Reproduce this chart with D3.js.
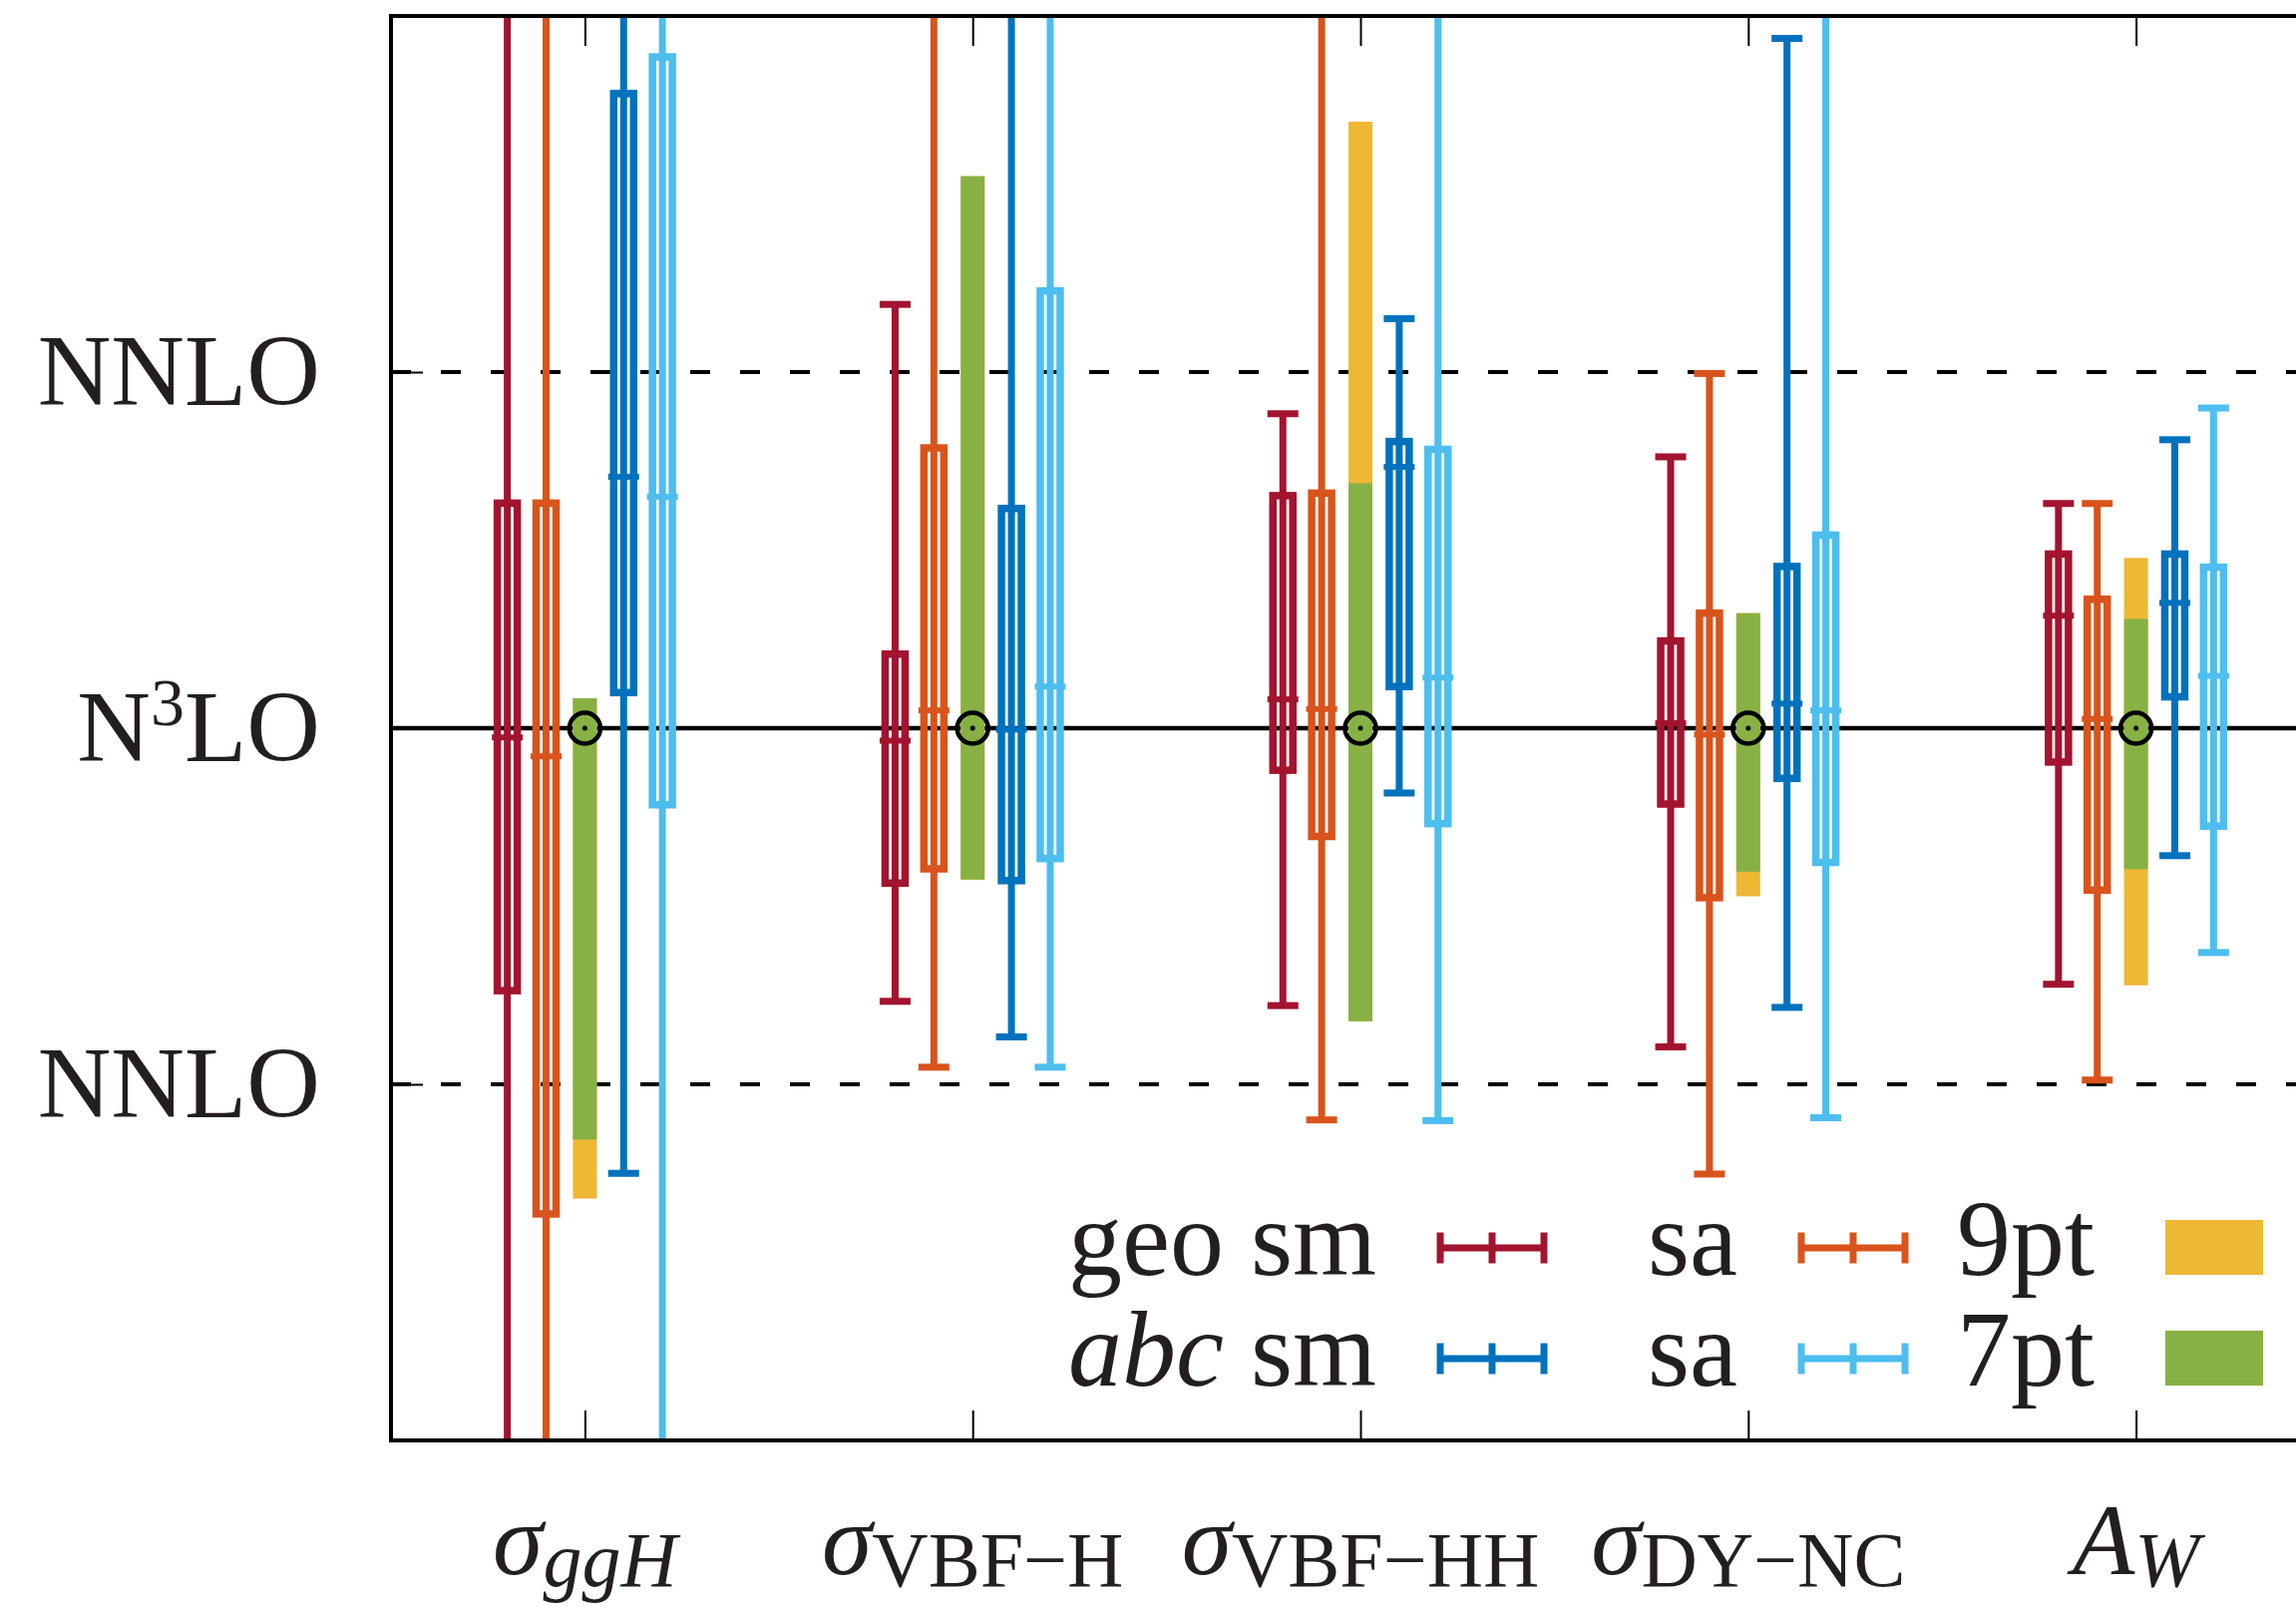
<!DOCTYPE html>
<html>
<head>
<meta charset="utf-8">
<script src="https://cdn.jsdelivr.net/npm/d3@7"></script>
<style>
  body { margin: 0; background: #fff; }
  text { font-family: "Liberation Serif", serif; fill: #231f20; }
</style>
</head>
<body>
<script>
// x categories: main symbol + subscript
var catPos = [1, 2, 3, 4, 5];
var catMain = ["σ", "σ", "σ", "σ", "A"];
var catSub = ["ggH", "VBF−H", "VBF−HH", "DY−NC", "W"];
var catSubItalic = [true, false, false, false, true];

// y ticks, N3LO at 0 and NNLO at +-1
var yTicks = [-1, 0, 1];
var yTickLabels = ["NNLO", "N^3LO", "NNLO"];

// per category: [whisker low, box low, central, box high, whisker high]
var geoSm = [[-2.6, -0.737, -0.026, 0.632, 2.6], [-0.767, -0.435, -0.035, 0.208, 1.19], [-0.779, -0.118, 0.081, 0.653, 0.883], [-0.895, -0.213, 0.014, 0.245, 0.762], [-0.719, -0.095, 0.316, 0.489, 0.631]];
var geoSa = [[-2.6, -1.364, -0.079, 0.632, 2.6], [-0.952, -0.395, 0.05, 0.787, 2.6], [-1.1, -0.304, 0.054, 0.66, 2.6], [-1.252, -0.476, -0.018, 0.323, 0.996], [-0.988, -0.455, 0.026, 0.362, 0.631]];
var abcSm = [[-1.25, 0.1, 0.706, 1.782, 2.6], [-0.867, -0.428, -0.004, 0.617, 2.6], [-0.182, 0.117, 0.734, 0.805, 1.15], [-0.784, -0.141, 0.069, 0.454, 1.937], [-0.358, 0.088, 0.352, 0.489, 0.81]];
var abcSa = [[-2.6, -0.215, 0.65, 1.885, 2.6], [-0.952, -0.366, 0.117, 1.228, 2.6], [-1.102, -0.268, 0.142, 0.783, 2.6], [-1.094, -0.377, 0.05, 0.542, 2.6], [-0.63, -0.275, 0.147, 0.452, 0.899]];

// scale variation bands: [low, high]
var band9pt = [[-1.321, 0.084], [-0.425, 1.55], [-0.823, 1.703], [-0.472, 0.323], [-0.722, 0.478]];
var band7pt = [[-1.155, 0.084], [-0.425, 1.55], [-0.823, 0.688], [-0.403, 0.323], [-0.396, 0.307]];

var barSeries = [
  {pre: "geo", label: "sm", data: geoSm, color: "#a2142f", offset: -0.2, row: 0, col: 0},
  {pre: "", label: "sa", data: geoSa, color: "#d9541c", offset: -0.1, row: 0, col: 1},
  {pre: "abc", label: "sm", data: abcSm, color: "#0072bd", offset: 0.1, row: 1, col: 0},
  {pre: "", label: "sa", data: abcSa, color: "#4dbeee", offset: 0.2, row: 1, col: 1}
];
var bandSeries = [
  {label: "9pt", data: band9pt, color: "#eeb734", row: 0},
  {label: "7pt", data: band7pt, color: "#88b144", row: 1}
];

var width = 2302, height = 1611;
var x = d3.scaleLinear().domain([0.5, 5.5]).range([392, 2336]);
var y = d3.scaleLinear().domain([-2, 2]).range([1444, 16]);

var svg = d3.select("body").append("svg")
  .attr("width", width)
  .attr("height", height)
  .style("background", "#fff");

svg.append("clipPath").attr("id", "plotclip")
  .append("rect")
  .attr("x", x(0.5)).attr("y", y(2))
  .attr("width", x(5.5) - x(0.5)).attr("height", y(-2) - y(2));

// reference lines
svg.selectAll("line.ref")
  .data(yTicks)
  .enter().append("line")
  .attr("class", "ref")
  .attr("x1", x(0.5)).attr("x2", x(5.5))
  .attr("y1", function(d) { return y(d) }).attr("y2", function(d) { return y(d) })
  .attr("stroke", "#000")
  .attr("stroke-width", function(d) { return d === 0 ? 4.5 : 4 })
  .attr("stroke-dasharray", function(d) { return d === 0 ? null : "20,30" });

// axes (ticks only, labels are drawn by hand below)
function styleAxis(g) {
  g.select(".domain").remove();
  g.selectAll(".tick line").attr("stroke", "#000").attr("stroke-width", 2);
}
svg.append("g")
  .attr("transform", "translate(0," + y(-2) + ")")
  .call(d3.axisBottom(x).tickValues(catPos).tickSize(-30).tickFormat(""))
  .call(styleAxis);
svg.append("g")
  .attr("transform", "translate(0," + y(2) + ")")
  .call(d3.axisTop(x).tickValues(catPos).tickSize(-30).tickFormat(""))
  .call(styleAxis);
svg.append("g")
  .attr("transform", "translate(" + x(0.5) + ",0)")
  .call(d3.axisLeft(y).tickValues(yTicks).tickSize(-32).tickFormat(""))
  .call(styleAxis);

var plot = svg.append("g").attr("clip-path", "url(#plotclip)");

// bands
bandSeries.forEach(function(s) {
  plot.selectAll(null)
    .data(s.data)
    .enter().append("rect")
    .attr("x", function(d, i) { return x(catPos[i]) - 12 })
    .attr("width", 24)
    .attr("y", function(d) { return y(d[1]) })
    .attr("height", function(d) { return y(d[0]) - y(d[1]) })
    .attr("fill", s.color);
});

// error bars with boxes
barSeries.forEach(function(s) {
  var g = plot.selectAll(null)
    .data(s.data)
    .enter().append("g")
    .attr("transform", function(d, i) { return "translate(" + x(catPos[i] + s.offset) + ",0)" })
    .attr("stroke", s.color)
    .attr("fill", "none");

  g.append("line")
    .attr("y1", function(d) { return y(d[0]) })
    .attr("y2", function(d) { return y(d[4]) })
    .attr("stroke-width", 7);
  g.append("line")
    .attr("x1", -15.5).attr("x2", 15.5)
    .attr("y1", function(d) { return y(d[0]) }).attr("y2", function(d) { return y(d[0]) })
    .attr("stroke-width", 7);
  g.append("line")
    .attr("x1", -15.5).attr("x2", 15.5)
    .attr("y1", function(d) { return y(d[4]) }).attr("y2", function(d) { return y(d[4]) })
    .attr("stroke-width", 7);
  g.append("rect")
    .attr("x", -10).attr("width", 20)
    .attr("y", function(d) { return y(d[3]) })
    .attr("height", function(d) { return y(d[1]) - y(d[3]) })
    .attr("stroke-width", 7.5);
  g.append("line")
    .attr("x1", -15.5).attr("x2", 15.5)
    .attr("y1", function(d) { return y(d[2]) }).attr("y2", function(d) { return y(d[2]) })
    .attr("stroke-width", 6);
});

// central value marker
var marks = plot.selectAll("g.mark")
  .data(catPos)
  .enter().append("g")
  .attr("class", "mark")
  .attr("transform", function(d) { return "translate(" + x(d) + "," + y(0) + ")" });
marks.append("circle").attr("r", 15.5).attr("fill", "none").attr("stroke", "#000").attr("stroke-width", 4.5);
marks.append("circle").attr("r", 2.5).attr("fill", "#000");

// frame
svg.append("rect")
  .attr("x", x(0.5)).attr("y", y(2))
  .attr("width", x(5.5) - x(0.5)).attr("height", y(-2) - y(2))
  .attr("fill", "none").attr("stroke", "#000").attr("stroke-width", 4);

// y labels
svg.selectAll("text.ylab")
  .data(yTicks)
  .enter().append("text")
  .attr("class", "ylab")
  .attr("x", 321)
  .attr("y", function(d) { return y(d) + 33 })
  .attr("text-anchor", "end")
  .style("font-size", "102px")
  .each(function(d, i) {
    var parts = yTickLabels[i].split("^");
    var t = d3.select(this);
    if (parts.length === 1) { t.text(parts[0]); return; }
    t.append("tspan").text(parts[0]);
    t.append("tspan").attr("dy", -36).style("font-size", "68px").text(parts[1].charAt(0));
    t.append("tspan").attr("dy", 36).text(parts[1].slice(1));
  });

// x labels
svg.selectAll("text.xlab")
  .data(catPos)
  .enter().append("text")
  .attr("class", "xlab")
  .attr("x", function(d) { return x(d) })
  .attr("y", 1578)
  .attr("text-anchor", "middle")
  .style("font-size", "102px")
  .each(function(d, i) {
    var t = d3.select(this);
    t.append("tspan").style("font-style", "italic").text(catMain[i]);
    t.append("tspan")
      .attr("dy", 12)
      .style("font-size", "78px")
      .style("font-style", catSubItalic[i] ? "italic" : "normal")
      .text(catSub[i]);
  });

// legend
var legTextRight = [1380, 1742, 2100];
var legBaseline = [1278, 1389];
var legend = svg.append("g").style("font-size", "108px");

barSeries.forEach(function(s) {
  var tr = legTextRight[s.col], by = legBaseline[s.row];
  var t = legend.append("text").attr("x", tr).attr("y", by).attr("text-anchor", "end");
  if (s.pre) {
    t.append("tspan").style("font-style", s.pre === "abc" ? "italic" : "normal").text(s.pre + " ");
  }
  t.append("tspan").text(s.label);

  var x0 = tr + 64, x1 = tr + 168, cy = by - 27;
  var sym = legend.append("g").attr("stroke", s.color).attr("stroke-width", 7);
  sym.append("line").attr("x1", x0).attr("x2", x1).attr("y1", cy).attr("y2", cy);
  [x0, (x0 + x1) / 2, x1].forEach(function(px) {
    sym.append("line").attr("x1", px).attr("x2", px).attr("y1", cy - 15.5).attr("y2", cy + 15.5);
  });
});

bandSeries.forEach(function(s) {
  var tr = legTextRight[2], by = legBaseline[s.row];
  legend.append("text").attr("x", tr).attr("y", by).attr("text-anchor", "end").text(s.label);
  legend.append("rect")
    .attr("x", tr + 71).attr("y", by - 55)
    .attr("width", 98).attr("height", 55)
    .attr("fill", s.color);
});
</script>
</body>
</html>
